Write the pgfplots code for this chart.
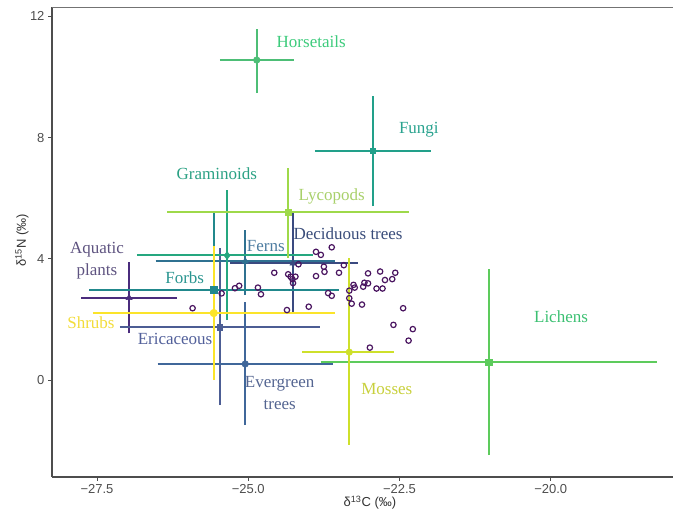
\documentclass[border=0pt]{standalone}
\usepackage{pgfplots}
\pgfplotsset{compat=1.18}
\usepackage{fontspec}
\setmainfont{Liberation Serif}
\newfontfamily\sansf{Liberation Sans}
\definecolor{cAqu}{HTML}{4A2C7D}
\definecolor{cDec}{HTML}{3A4A80}
\definecolor{cEri}{HTML}{4C5D94}
\definecolor{cEve}{HTML}{40679A}
\definecolor{cFer}{HTML}{2F7191}
\definecolor{cFor}{HTML}{21888C}
\definecolor{cFun}{HTML}{22A08A}
\definecolor{cGra}{HTML}{25A77F}
\definecolor{cHor}{HTML}{4DBE76}
\definecolor{cLic}{HTML}{5DCB5C}
\definecolor{cLyc}{HTML}{9ED94A}
\definecolor{cMos}{HTML}{CEE02B}
\definecolor{cShr}{HTML}{FBE42A}
\definecolor{cPts}{HTML}{4A1560}
\definecolor{lAqu}{HTML}{5E5380}
\definecolor{lDec}{HTML}{394C7A}
\definecolor{lEri}{HTML}{52609A}
\definecolor{lEve}{HTML}{546591}
\definecolor{lFer}{HTML}{4D7CA0}
\definecolor{lFor}{HTML}{2A9590}
\definecolor{lFun}{HTML}{2AA38F}
\definecolor{lGra}{HTML}{2BA184}
\definecolor{lHor}{HTML}{3DCB7C}
\definecolor{lLic}{HTML}{3CC072}
\definecolor{lLyc}{HTML}{A8D06A}
\definecolor{lMos}{HTML}{C8D03C}
\definecolor{lShr}{HTML}{F2DC3A}
\definecolor{tickc}{HTML}{4D4D4D}
\pgfplotsset{
  bar/.style={line width=2pt, color=#1, mark=none, forget plot},
  pt/.style={only marks, color=#1, mark size=3.3pt, mark options={fill=#1, draw=#1, line width=0.5pt}, forget plot},
}
\tikzset{lab/.style={font=\fontsize{17}{22}\selectfont, align=center, inner sep=0pt}}
\begin{document}
\begin{tikzpicture}
\begin{axis}[
  scale only axis, width=621pt, height=470pt,
  xmin=-28.244, xmax=-17.979, ymin=-3.2, ymax=12.31,
  axis x line*=bottom, axis y line*=left,
  axis line style={line width=1.3pt, color=tickc},
  tick align=outside, major tick length=4pt,
  tick style={line width=0.8pt, color=tickc},
  xtick={-27.5,-25,-22.5,-20},
  xticklabels={−27.5,−25.0,−22.5,−20.0},
  ytick={0,4,8,12}, yticklabels={0,4,8,12},
  ticklabel style={font=\sansf\fontsize{13}{15}\selectfont, text=tickc},
  xlabel={δ\textsuperscript{13}C (‰)},
  ylabel={δ\textsuperscript{15}N (‰)},
  xlabel style={font=\sansf\fontsize{13}{15}\selectfont, text=black!80, at={(axis description cs:0.512,-0.0553)}, anchor=center},
  ylabel style={font=\sansf\fontsize{13}{15}\selectfont, text=black!80, at={(axis description cs:-0.0483,0.504)}, anchor=center},
  clip=false,
]
% error bars (horizontal and vertical), in group order
\addplot[bar=cAqu] coordinates {(-27.76,2.71) (-26.18,2.71)};
\addplot[bar=cAqu] coordinates {(-26.97,1.54) (-26.97,3.88)};
\addplot[bar=cDec] coordinates {(-25.30,3.85) (-23.19,3.85)};
\addplot[bar=cDec] coordinates {(-24.26,2.21) (-24.26,5.51)};
\addplot[bar=cEri] coordinates {(-27.12,1.75) (-23.81,1.75)};
\addplot[bar=cEri] coordinates {(-25.47,-0.83) (-25.47,4.36)};
\addplot[bar=cEve] coordinates {(-26.50,0.53) (-23.60,0.53)};
\addplot[bar=cEve] coordinates {(-25.05,-1.49) (-25.05,2.57)};
\addplot[bar=cFer] coordinates {(-26.53,3.92) (-23.57,3.92)};
\addplot[bar=cFer] coordinates {(-25.05,2.80) (-25.05,4.95)};
\addplot[bar=cFor] coordinates {(-27.63,2.97) (-23.50,2.97)};
\addplot[bar=cFor] coordinates {(-25.57,0.44) (-25.57,5.50)};
\addplot[bar=cFun] coordinates {(-23.90,7.56) (-21.98,7.56)};
\addplot[bar=cFun] coordinates {(-22.94,5.74) (-22.94,9.37)};
\addplot[bar=cGra] coordinates {(-26.84,4.11) (-23.93,4.11)};
\addplot[bar=cGra] coordinates {(-25.35,1.98) (-25.35,6.27)};
\addplot[bar=cHor] coordinates {(-25.47,10.56) (-24.24,10.56)};
\addplot[bar=cHor] coordinates {(-24.86,9.47) (-24.86,11.58)};
\addplot[bar=cLic] coordinates {(-23.79,0.59) (-18.25,0.59)};
\addplot[bar=cLic] coordinates {(-21.02,-2.48) (-21.02,3.66)};
\addplot[bar=cLyc] coordinates {(-26.34,5.54) (-22.34,5.54)};
\addplot[bar=cLyc] coordinates {(-24.34,4.03) (-24.34,7.00)};
\addplot[bar=cMos] coordinates {(-24.11,0.92) (-22.59,0.92)};
\addplot[bar=cMos] coordinates {(-23.33,-2.13) (-23.33,4.03)};
\addplot[bar=cShr] coordinates {(-27.57,2.21) (-23.57,2.21)};
\addplot[bar=cShr] coordinates {(-25.57,0.00) (-25.57,4.41)};
% group means
\addplot[pt=cAqu, mark=triangle*, mark size=3.6pt] coordinates {(-26.97,2.71)};
\addplot[pt=cDec, mark=triangle*, mark size=3.6pt] coordinates {(-24.26,3.85)};
\addplot[pt=cEri, mark=square*, mark size=2.8pt] coordinates {(-25.47,1.75)};
\addplot[pt=cEve, mark=*] coordinates {(-25.05,0.53)};
\addplot[pt=cFer, mark=triangle*, mark size=3.6pt] coordinates {(-25.05,3.92)};
\addplot[pt=cFor, mark=square*] coordinates {(-25.57,2.97)};
\addplot[pt=cFun, mark=square*, mark size=2.8pt] coordinates {(-22.94,7.56)};
\addplot[pt=cGra, mark=diamond*, mark size=4pt] coordinates {(-25.35,4.11)};
\addplot[pt=cHor, mark=*] coordinates {(-24.86,10.56)};
\addplot[pt=cLic, mark=square*] coordinates {(-21.02,0.59)};
\addplot[pt=cLyc, mark=square*] coordinates {(-24.34,5.54)};
\addplot[pt=cMos, mark=*] coordinates {(-23.33,0.92)};
\addplot[pt=cShr, mark=*, mark size=3.8pt] coordinates {(-25.57,2.21)};
% consumers (open circles)
\addplot[only marks, mark=o, mark size=2.7pt, color=cPts, mark options={line width=1.2pt}] coordinates {
(-23.88,4.23) (-23.80,4.13) (-23.62,4.38) (-24.17,3.82) (-23.75,3.74) (-23.74,3.57)
(-23.42,3.79) (-23.50,3.54) (-24.57,3.54) (-24.34,3.49) (-24.30,3.41) (-24.22,3.41)
(-24.26,3.20) (-24.27,3.33) (-23.88,3.43) (-23.02,3.52) (-22.82,3.58) (-22.57,3.54)
(-22.74,3.30) (-22.62,3.33) (-23.26,3.14) (-23.24,3.05) (-23.08,3.21) (-23.02,3.19)
(-23.10,3.08) (-22.88,3.02) (-22.78,3.02) (-23.33,2.95) (-23.68,2.87) (-23.62,2.78)
(-23.33,2.70) (-23.29,2.52) (-23.12,2.49) (-24.36,2.31) (-24.00,2.42) (-22.44,2.37)
(-22.60,1.82) (-22.28,1.68) (-22.35,1.30) (-22.99,1.07) (-25.44,2.86) (-25.22,3.03)
(-25.15,3.11) (-24.84,3.05) (-24.79,2.83) (-25.92,2.37)
};
% top border
\draw[line width=0.8pt, color=black!55] (rel axis cs:0,1) -- (rel axis cs:1,1);
% labels
\node[lab, text=lHor] at (axis cs:-23.96,11.16) {Horsetails};
\node[lab, text=lFun] at (axis cs:-22.18,8.25) {Fungi};
\node[lab, text=lGra] at (axis cs:-25.52,6.80) {Graminoids};
\node[lab, text=lLyc] at (axis cs:-23.62,6.07) {Lycopods};
\node[lab, text=lDec] at (axis cs:-23.35,4.82) {Deciduous trees};
\node[lab, text=lFer] at (axis cs:-24.71,4.42) {Ferns};
\node[lab, text=lAqu] at (axis cs:-27.50,3.93) {Aquatic\\plants};
\node[lab, text=lFor] at (axis cs:-26.05,3.37) {Forbs};
\node[lab, text=lShr] at (axis cs:-27.60,1.88) {Shrubs};
\node[lab, text=lEri] at (axis cs:-26.21,1.35) {Ericaceous};
\node[lab, text=lEve] at (axis cs:-24.48,-0.43) {Evergreen\\trees};
\node[lab, text=lMos] at (axis cs:-22.71,-0.30) {Mosses};
\node[lab, text=lLic] at (axis cs:-19.83,2.08) {Lichens};
\end{axis}
\pgfresetboundingbox
\useasboundingbox (-52pt,-37pt) rectangle (621pt,477pt);
\end{tikzpicture}
\end{document}
